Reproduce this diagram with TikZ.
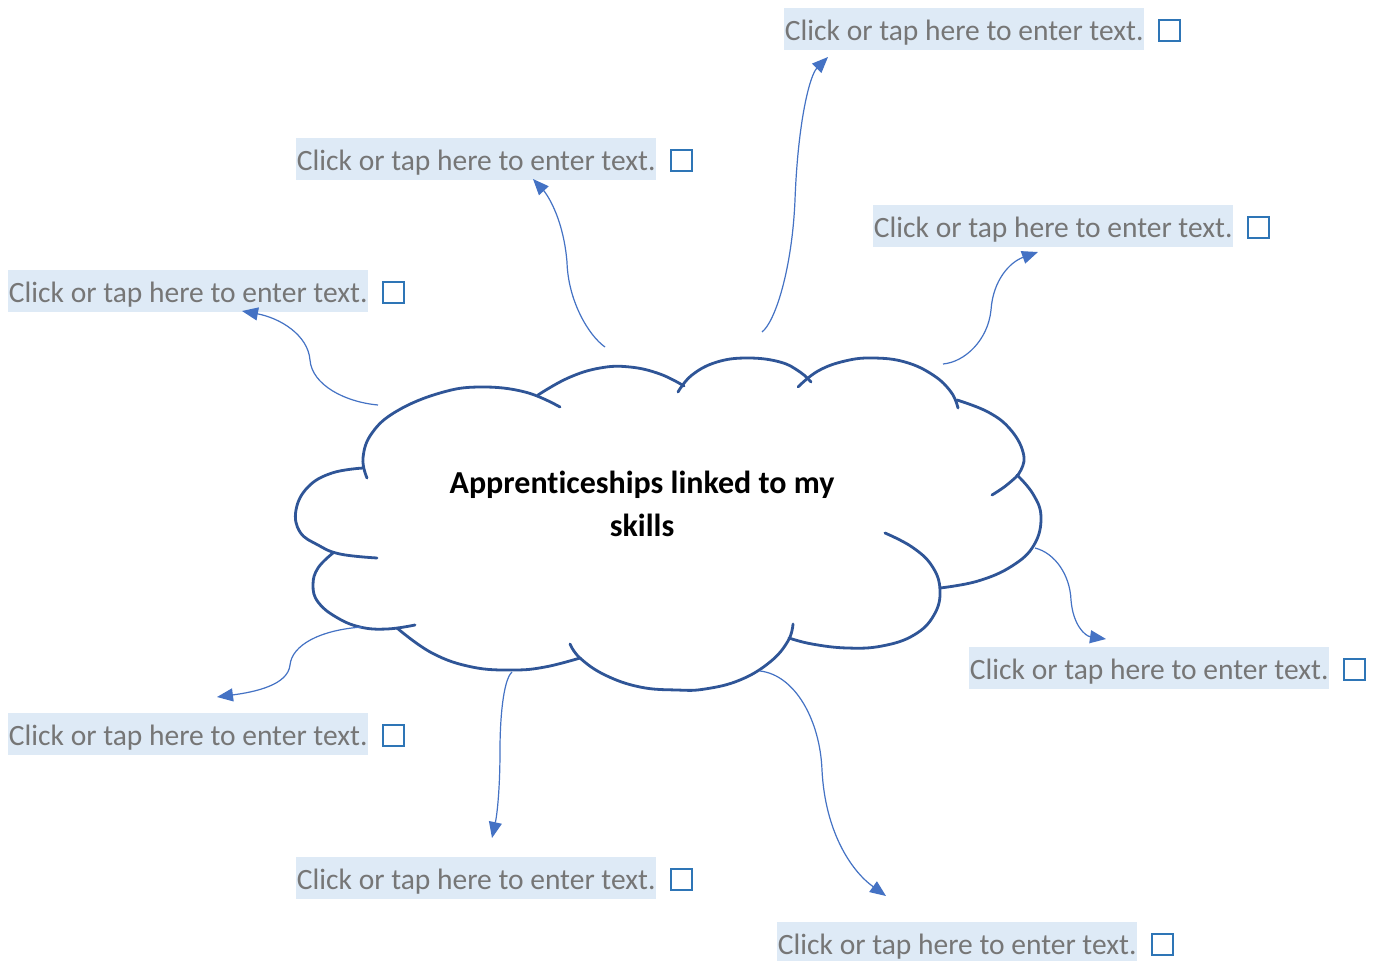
\documentclass[tikz,border=0pt]{standalone}
\usepackage{fontspec}
\setmainfont{Carlito}[Ligatures=NoCommon]
\usetikzlibrary{arrows.meta,calc}
\definecolor{hl}{RGB}{222,234,246}
\definecolor{phgray}{RGB}{118,118,118}
\definecolor{chkblue}{RGB}{46,117,182}
\definecolor{cloudblue}{RGB}{47,85,151}
\definecolor{connblue}{RGB}{68,114,196}
\begin{document}
\begin{tikzpicture}[x=1pt,y=-1pt,
  box/.style={anchor=north west, fill=hl, text=phgray, font=\fontsize{29.5}{35}\selectfont,
    minimum width=360pt, inner xsep=0pt, inner ysep=0pt, text height=32.5pt, text depth=9.5pt},
  chk/.style={draw=chkblue, line width=2.1pt, minimum size=21pt, inner sep=0pt, anchor=north west},
  cloudline/.style={draw=cloudblue, line width=2.8pt, line cap=round},
  conn/.style={draw=connblue, line width=1.2pt, -{Triangle[length=16pt,width=13pt]}}
]
\fill[white] (0,0) rectangle (1377,961);
\useasboundingbox (0,0) rectangle (1377,961);

% cloud
\draw[cloudline] plot[smooth,tension=0.7] coordinates {(367,478) (363,458) (372,433) (397,411) (440,393) (480,387) (525,392) (560,407)};
\draw[cloudline] plot[smooth,tension=0.7] coordinates {(538,395) (568,378) (600,368) (630,367) (660,374) (684,386)};
\draw[cloudline] plot[smooth,tension=0.7] coordinates {(678,392) (692,375) (717,362) (748,358) (780,362) (800,372) (811,382)};
\draw[cloudline] plot[smooth,tension=0.7] coordinates {(798,387) (818,371) (845,361) (873,358) (905,362) (933,375) (951,392) (958,408)};
\draw[cloudline] plot[smooth,tension=0.7] coordinates {(957,400) (988,412) (1010,429) (1023,452) (1021,470) (1008,484) (992,495)};
\draw[cloudline] plot[smooth,tension=0.7] coordinates {(1017,475) (1033,494) (1041,517) (1034,545) (1012,566) (978,581) (940,588)};
\draw[cloudline] plot[smooth,tension=0.7] coordinates {(885,533) (912,547) (932,566) (940,590) (934,615) (914,635) (882,646) (847,648) (812,644) (789,638)};
\draw[cloudline] plot[smooth,tension=0.7] coordinates {(793,624) (788,641) (770,662) (740,680) (705,689) (677,690) (640,687) (605,675) (580,658) (570,644)};
\draw[cloudline] plot[smooth,tension=0.7] coordinates {(580,658) (545,667) (513,670) (472,667) (432,653) (397,628)};
\draw[cloudline] plot[smooth,tension=0.7] coordinates {(333,553) (318,568) (313,585) (318,602) (336,617) (360,627) (387,629) (415,625)};
\draw[cloudline] plot[smooth,tension=0.7] coordinates {(363,468) (332,473) (308,487) (296,510) (300,532) (318,545) (340,554) (377,558)};

\node[font=\bfseries\fontsize{32}{43}\selectfont, align=center] (title) at (642,504) {Apprenticeships linked to my\\skills};

% text boxes
\node[box] (b1) at (784,8) {Click or tap here to enter text.};
\node[box] (b2) at (296,138) {Click or tap here to enter text.};
\node[box] (b3) at (873,205) {Click or tap here to enter text.};
\node[box] (b4) at (8,270) {Click or tap here to enter text.};
\node[box] (b5) at (969,647) {Click or tap here to enter text.};
\node[box] (b6) at (8,713) {Click or tap here to enter text.};
\node[box] (b7) at (296,857) {Click or tap here to enter text.};
\node[box] (b8) at (777,922) {Click or tap here to enter text.};

\foreach \i in {1,...,8}{
  \node[chk] (c\i) at ($(b\i.north west)+(374,11)$) {};
}

% connector end points
\coordinate (s1) at (762,332); \coordinate (m1) at (795,200); \coordinate (t1) at (828,57);
\coordinate (s2) at (605,347); \coordinate (m2) at (567,262); \coordinate (t2) at (533,179);
\coordinate (s3) at (943,364); \coordinate (m3) at (991,310); \coordinate (t3) at (1038,252);
\coordinate (s4) at (378,405); \coordinate (m4) at (310,360); \coordinate (t4) at (242,311);
\coordinate (s5) at (1035,548); \coordinate (m5) at (1071,600); \coordinate (t5) at (1106,639);
\coordinate (s6) at (362,627); \coordinate (m6) at (290,665); \coordinate (t6) at (217,697);
\coordinate (s7) at (512,672); \coordinate (m7) at (500,750); \coordinate (t7) at (492,838);
\coordinate (s8) at (760,671); \coordinate (m8) at (822,770); \coordinate (t8) at (886,896);

\draw[conn] (s1) .. controls (775,322) and (792,270) .. (m1) .. controls (798,120) and (810,75) .. (t1);
\draw[conn] (s2) .. controls (588,335) and (568,300) .. (m2) .. controls (563,215) and (545,192) .. (t2);
\draw[conn] (s3) .. controls (965,362) and (988,340) .. (m3) .. controls (993,280) and (1010,262) .. (t3);
\draw[conn] (s4) .. controls (345,402) and (312,385) .. (m4) .. controls (308,335) and (280,318) .. (t4);
\draw[conn] (s5) .. controls (1055,553) and (1070,575) .. (m5) .. controls (1073,625) and (1085,636) .. (t5);
\draw[conn] (s6) .. controls (320,630) and (292,645) .. (m6) .. controls (288,685) and (255,692) .. (t6);
\draw[conn] (s7) .. controls (503,680) and (500,720) .. (m7) .. controls (500,790) and (497,815) .. (t7);
\draw[conn] (s8) .. controls (795,675) and (820,720) .. (m8) .. controls (825,830) and (850,870) .. (t8);
\end{tikzpicture}
\end{document}
